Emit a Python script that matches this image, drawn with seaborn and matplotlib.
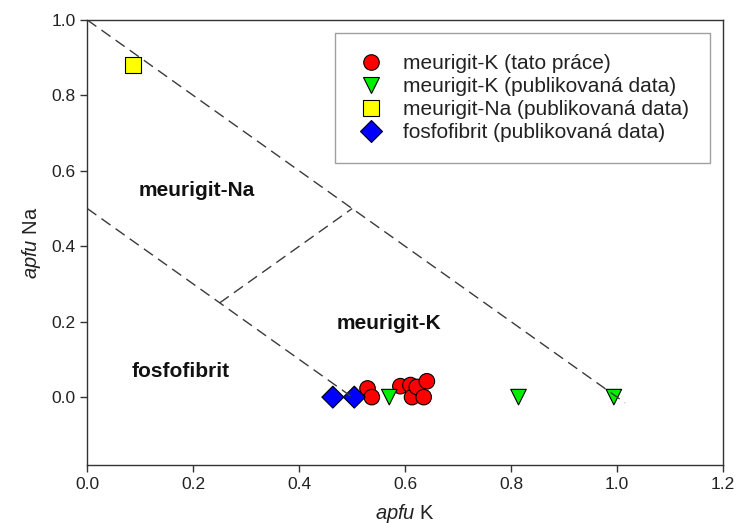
import matplotlib
matplotlib.use("Agg")
import matplotlib.pyplot as plt
import seaborn as sns
import pandas as pd

# ---- data ----
groups = ["meurigit-K (tato práce)", "meurigit-K (publikovaná data)",
          "meurigit-Na (publikovaná data)", "fosfofibrit (publikovaná data)"]

k_this = [0.529, 0.537, 0.591, 0.610, 0.613, 0.622, 0.635, 0.641]
na_this = [0.023, 0.000, 0.029, 0.032, 0.000, 0.027, 0.000, 0.042]

k_pubK = [0.570, 0.814, 0.994]
na_pubK = [0.000, 0.000, 0.000]

k_pubNa = [0.086]
na_pubNa = [0.881]

k_fos = [0.4635, 0.504]
na_fos = [0.000, 0.000]

# boundary lines of the classification diagram
line1_k = [0.0, 1.015]
line1_na = [1.0, -0.015]
line2_k = [0.0, 0.5]
line2_na = [0.5, 0.0]
line3_k = [0.25, 0.5]
line3_na = [0.25, 0.5]

field_labels = ["meurigit-Na", "meurigit-K", "fosfofibrit"]
field_k = [0.206, 0.570, 0.177]
field_na = [0.547, 0.196, 0.067]

xticks = [0.0, 0.2, 0.4, 0.6, 0.8, 1.0, 1.2]
yticks = [0.0, 0.2, 0.4, 0.6, 0.8, 1.0]

# ---- build table ----
df = pd.concat([
    pd.DataFrame({"K": k_this, "Na": na_this, "grp": groups[0]}),
    pd.DataFrame({"K": k_pubK, "Na": na_pubK, "grp": groups[1]}),
    pd.DataFrame({"K": k_pubNa, "Na": na_pubNa, "grp": groups[2]}),
    pd.DataFrame({"K": k_fos, "Na": na_fos, "grp": groups[3]}),
], ignore_index=True)

sns.set_style("ticks")
plt.rcParams["font.family"] = ["Liberation Sans", "DejaVu Sans"]
plt.rcParams["mathtext.fontset"] = "custom"
plt.rcParams["mathtext.rm"] = "Liberation Sans"
plt.rcParams["mathtext.it"] = "Liberation Sans:italic"

fig = plt.figure(figsize=(7.36, 5.23), dpi=100)
ax = fig.add_axes([87.3 / 736, 1 - 465 / 523, (723 - 87.3) / 736, (465 - 20) / 523])

palette = {groups[0]: "#ff0000", groups[1]: "#00ee00",
           groups[2]: "#ffff00", groups[3]: "#0000ff"}
markers = {groups[0]: "o", groups[1]: "v", groups[2]: "s", groups[3]: "D"}

sns.scatterplot(data=df, x="K", y="Na", hue="grp", style="grp",
                palette=palette, markers=markers, hue_order=groups,
                style_order=groups, s=125, edgecolor="black", linewidth=0.8,
                ax=ax, zorder=2, legend=True)

line_kw = dict(color="#3a3a3a", lw=1.0, dashes=(8, 4.5), zorder=3)
ax.plot(line1_k, line1_na, **line_kw)
ax.plot(line2_k, line2_na, **line_kw)
ax.plot(line3_k, line3_na, **line_kw)

for lab, xk, yn in zip(field_labels, field_k, field_na):
    ax.text(xk, yn, lab, ha="center", va="center", fontsize=15,
            fontweight="bold", color="#111111")

ax.set_xlim(0, 1.2)
ax.set_ylim(-0.18, 1.0)
ax.set_xticks(xticks)
ax.set_yticks(yticks)
ax.set_xticklabels([f"{v:.1f}" for v in xticks])
ax.set_yticklabels([f"{v:.1f}" for v in yticks])
ax.tick_params(axis="both", labelsize=12.5, length=5, width=1,
               color="#333333", labelcolor="#222222", direction="out")
for sp in ax.spines.values():
    sp.set_visible(True)
    sp.set_color("#333333")
    sp.set_linewidth(1.0)

ax.set_xlabel(r"$\it{apfu}$ K", fontsize=14.5, color="#222222", labelpad=7)
ax.set_ylabel(r"$\it{apfu}$ Na", fontsize=14.5, color="#222222", labelpad=6)

handles, labels = ax.get_legend_handles_labels()
leg = ax.legend(handles, labels, loc="upper right",
                bbox_to_anchor=((710 - 87.3) / (723 - 87.3), (465 - 33) / 445),
                borderaxespad=0, frameon=True, fancybox=False, shadow=False,
                fontsize=15, handletextpad=0.8, labelspacing=0.2,
                borderpad=1.0, handlelength=1.45, markerscale=1.0)
leg.get_frame().set_edgecolor("#888888")
leg.get_frame().set_linewidth(1.0)
for t in leg.get_texts():
    t.set_color("#222222")

fig.savefig("out.png", dpi=100, facecolor="white")
